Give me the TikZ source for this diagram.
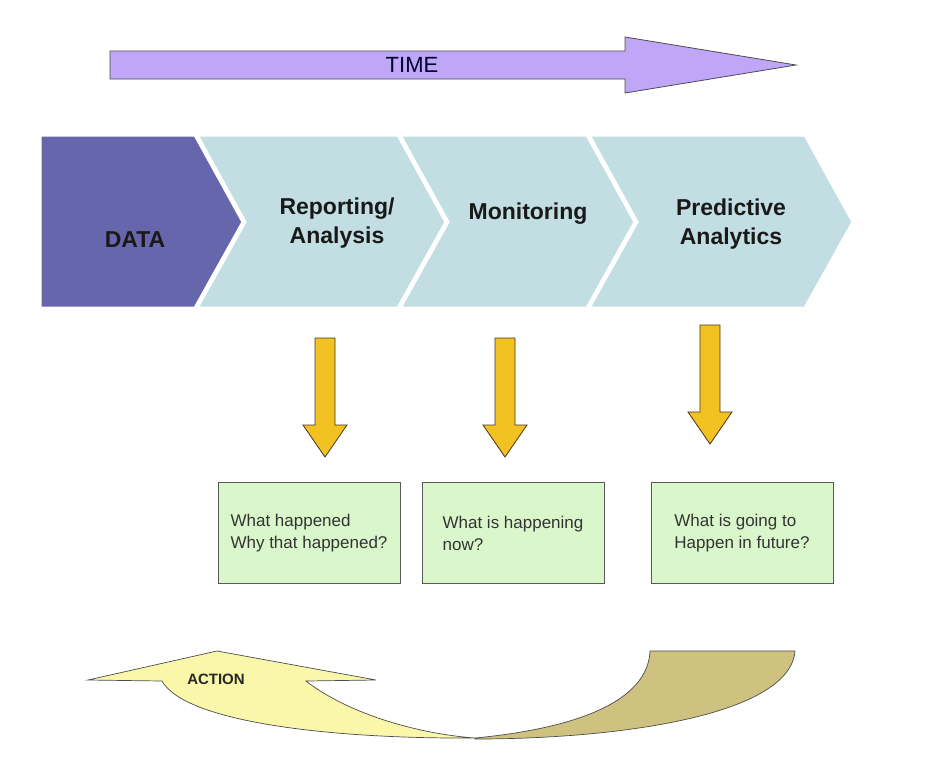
\documentclass[tikz,border=0pt]{standalone}
\usepackage{fontspec}
\setmainfont{Liberation Sans}
\definecolor{timefill}{RGB}{191,166,246}
\definecolor{datafill}{RGB}{102,102,172}
\definecolor{stagefill}{RGB}{194,222,226}
\definecolor{downfill}{RGB}{242,194,34}
\definecolor{boxfill}{RGB}{218,247,204}
\definecolor{actfill}{RGB}{250,246,170}
\definecolor{backfill}{RGB}{207,194,128}
\begin{document}
\begin{tikzpicture}[x=1pt, y=-1pt, line join=miter,
  stage/.style={draw=white, line width=3pt},
  stagetext/.style={font=\fontsize{23}{29}\selectfont\bfseries, text=black!90, align=center},
  downarrow/.style={fill=downfill, draw=black!60!brown, line width=0.8pt},
  qbox/.style={draw=black!65, fill=boxfill, line width=0.9pt, minimum width=182pt, minimum height=101pt,
    align=left, font=\fontsize{17}{22}\selectfont, text=black!80}]
  \useasboundingbox (0,0) rectangle (945,764);
  \draw[fill=timefill, draw=black!70, line width=0.8pt]
    (110,51) -- (625,51) -- (625,37) -- (796,65) -- (625,93) -- (625,79) -- (110,79) -- cycle;
  \node[font=\fontsize{22}{26}\selectfont, text=black!70!blue!60!black] (time) at (412,65) {TIME};
  \filldraw[stage, fill=datafill] (40,135) -- (195,135) -- (243,222) -- (195,308) -- (40,308) -- cycle;
  \foreach \l/\r in {197/398, 400/587, 589/805}
    \filldraw[stage, fill=stagefill] (\l,135) -- (\r,135) -- (\r+48,222) -- (\r,308) -- (\l,308) -- (\l+48,222) -- cycle;
  \node[stagetext] (data) at (135,240) {DATA};
  \node[stagetext] (report) at (337,223) {Reporting/\\Analysis};
  \node[stagetext] (monitor) at (528,214) {Monitoring};
  \node[stagetext] (predict) at (731,224) {Predictive\\Analytics};
  \foreach \x/\y in {325/338, 505/338, 710/325}
    \draw[downarrow] (\x-10,\y) -- (\x+10,\y) -- (\x+10,\y+87) -- (\x+22,\y+87) -- (\x,\y+119)
      -- (\x-22,\y+87) -- (\x-10,\y+87) -- cycle;
  \node[qbox] (past) at (309,533) {What happened\\Why that happened?};
  \node[qbox] (present) at (513,533) {What is happening\\now?};
  \node[qbox] (future) at (742,533) {What is going to\\Happen in future?};
  \draw[fill=backfill, draw=black!70, line width=0.7pt]
    (475,738) .. controls (580,728) and (648,700) .. (650,651) -- (795,651)
    .. controls (790,715) and (620,739) .. (475,739) -- cycle;
  \draw[fill=actfill, draw=black!70, line width=0.7pt]
    (88,680) -- (217,651) -- (376,680) -- (306,681) .. controls (350,715) and (420,734) .. (475,738)
    .. controls (330,739) and (185,722) .. (162,681) -- cycle;
  \node[font=\fontsize{15}{18}\selectfont\bfseries, text=black!85] (action) at (216,679) {ACTION};
\end{tikzpicture}
\end{document}
